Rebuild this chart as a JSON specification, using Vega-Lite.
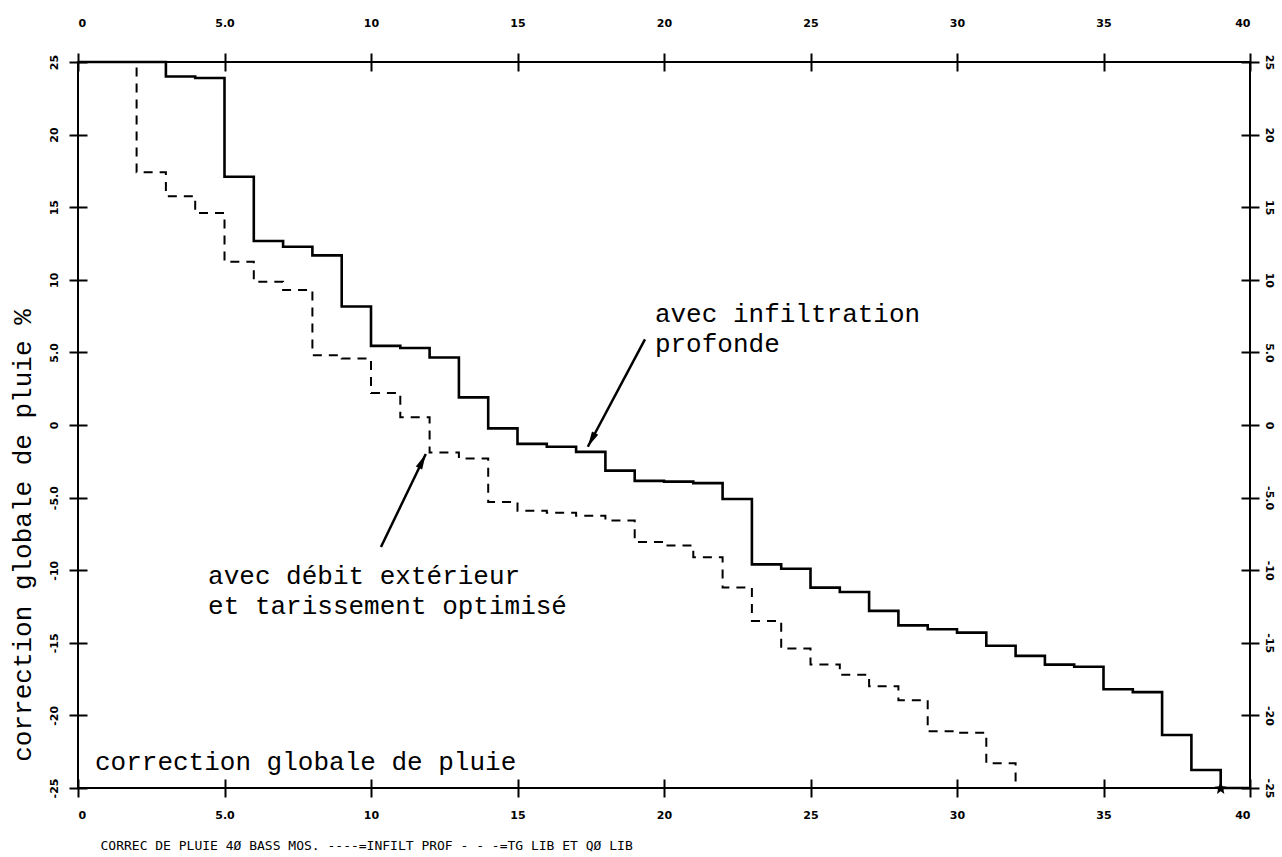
{
  "$schema": "https://vega.github.io/schema/vega-lite/v6.json",
  "width": 1172,
  "height": 726,
  "autosize": {"type": "none"},
  "padding": {"left": 78, "top": 62, "right": 32, "bottom": 69},
  "background": "white",
  "config": {
    "view": {"stroke": "black", "strokeWidth": 2},
    "axis": {
      "grid": false, "domain": false, "ticks": true, "tickColor": "black", "tickWidth": 2,
      "tickSize": 18, "offset": -9,
      "labelFont": "DejaVu Sans", "labelFontWeight": "bold", "labelFontSize": 11, "labelColor": "black",
      "titleColor": "black"
    }
  },
  "datasets": {
    "curves": [
      {"x": 0, "v": 25, "s": "infilt"}, {"x": 1, "v": 25, "s": "infilt"}, {"x": 2, "v": 25, "s": "infilt"},
      {"x": 3, "v": 24.0, "s": "infilt"}, {"x": 4, "v": 23.9, "s": "infilt"}, {"x": 5, "v": 17.1, "s": "infilt"},
      {"x": 6, "v": 12.67, "s": "infilt"}, {"x": 7, "v": 12.28, "s": "infilt"}, {"x": 8, "v": 11.68, "s": "infilt"},
      {"x": 9, "v": 8.16, "s": "infilt"}, {"x": 10, "v": 5.45, "s": "infilt"}, {"x": 11, "v": 5.3, "s": "infilt"},
      {"x": 12, "v": 4.65, "s": "infilt"}, {"x": 13, "v": 1.9, "s": "infilt"}, {"x": 14, "v": -0.23, "s": "infilt"},
      {"x": 15, "v": -1.3, "s": "infilt"}, {"x": 16, "v": -1.5, "s": "infilt"}, {"x": 17, "v": -1.85, "s": "infilt"},
      {"x": 18, "v": -3.14, "s": "infilt"}, {"x": 19, "v": -3.85, "s": "infilt"}, {"x": 20, "v": -3.9, "s": "infilt"},
      {"x": 21, "v": -4.0, "s": "infilt"}, {"x": 22, "v": -5.1, "s": "infilt"}, {"x": 23, "v": -9.6, "s": "infilt"},
      {"x": 24, "v": -9.9, "s": "infilt"}, {"x": 25, "v": -11.2, "s": "infilt"}, {"x": 26, "v": -11.5, "s": "infilt"},
      {"x": 27, "v": -12.8, "s": "infilt"}, {"x": 28, "v": -13.8, "s": "infilt"}, {"x": 29, "v": -14.07, "s": "infilt"},
      {"x": 30, "v": -14.3, "s": "infilt"}, {"x": 31, "v": -15.2, "s": "infilt"}, {"x": 32, "v": -15.9, "s": "infilt"},
      {"x": 33, "v": -16.5, "s": "infilt"}, {"x": 34, "v": -16.65, "s": "infilt"}, {"x": 35, "v": -18.2, "s": "infilt"},
      {"x": 36, "v": -18.4, "s": "infilt"}, {"x": 37, "v": -21.35, "s": "infilt"}, {"x": 38, "v": -23.76, "s": "infilt"},
      {"x": 39, "v": -25, "s": "infilt"}, {"x": 40, "v": -25, "s": "infilt"},
      {"x": 0, "v": 25, "s": "tg"}, {"x": 1, "v": 25, "s": "tg"}, {"x": 2, "v": 17.4, "s": "tg"},
      {"x": 3, "v": 15.76, "s": "tg"}, {"x": 4, "v": 14.6, "s": "tg"}, {"x": 5, "v": 11.25, "s": "tg"},
      {"x": 6, "v": 9.87, "s": "tg"}, {"x": 7, "v": 9.3, "s": "tg"}, {"x": 8, "v": 4.81, "s": "tg"},
      {"x": 9, "v": 4.58, "s": "tg"}, {"x": 10, "v": 2.2, "s": "tg"}, {"x": 11, "v": 0.53, "s": "tg"},
      {"x": 12, "v": -1.9, "s": "tg"}, {"x": 13, "v": -2.3, "s": "tg"}, {"x": 14, "v": -5.3, "s": "tg"},
      {"x": 15, "v": -5.9, "s": "tg"}, {"x": 16, "v": -6.05, "s": "tg"}, {"x": 17, "v": -6.25, "s": "tg"},
      {"x": 18, "v": -6.58, "s": "tg"}, {"x": 19, "v": -8.06, "s": "tg"}, {"x": 20, "v": -8.3, "s": "tg"},
      {"x": 21, "v": -9.1, "s": "tg"}, {"x": 22, "v": -11.2, "s": "tg"}, {"x": 23, "v": -13.5, "s": "tg"},
      {"x": 24, "v": -15.4, "s": "tg"}, {"x": 25, "v": -16.5, "s": "tg"}, {"x": 26, "v": -17.2, "s": "tg"},
      {"x": 27, "v": -18.0, "s": "tg"}, {"x": 28, "v": -18.95, "s": "tg"}, {"x": 29, "v": -21.1, "s": "tg"},
      {"x": 30, "v": -21.2, "s": "tg"}, {"x": 31, "v": -23.3, "s": "tg"}, {"x": 32, "v": -25, "s": "tg"}
    ],
    "notes": [
      {"t": "avec infiltration", "x": 19.69, "y": 7.64},
      {"t": "profonde", "x": 19.69, "y": 5.58},
      {"t": "avec débit extérieur", "x": 4.44, "y": -10.4},
      {"t": "et tarissement optimisé", "x": 4.44, "y": -12.47},
      {"t": "correction globale de pluie", "x": 0.58, "y": -23.2}
    ],
    "arrows": [
      {"id": "a1", "x": 19.35, "y": 5.9, "x2": 17.4, "y2": -1.5},
      {"id": "a2", "x": 10.34, "y": -8.4, "x2": 11.87, "y2": -2.0}
    ],
    "marks": [{"x": 39, "y": -25}]
  },
  "resolve": {"axis": {"x": "independent", "y": "independent"}},
  "layer": [
    {
      "data": {"name": "curves"},
      "transform": [{"filter": "datum.s == 'infilt'"}],
      "mark": {"type": "line", "interpolate": "step-after", "color": "black", "strokeWidth": 2.6},
      "encoding": {
        "x": {"field": "x", "type": "quantitative", "scale": {"domain": [0, 40], "nice": false, "zero": false},
          "axis": {"orient": "bottom", "values": [0, 5, 10, 15, 20, 25, 30, 35, 40],
            "labelExpr": "datum.value == 5 ? '5.0' : '' + datum.value", "labelPadding": 12,
            "title": "CORREC DE PLUIE 4Ø BASS MOS. ----=INFILT PROF  - - -=TG LIB ET QØ LIB",
            "titleFont": "DejaVu Sans Mono", "titleFontSize": 13, "titleFontWeight": "normal",
            "titleX": 22, "titleY": 66, "titleAlign": "left", "titleBaseline": "middle", "titleAnchor": "start"}},
        "y": {"field": "v", "type": "quantitative", "scale": {"domain": [-25, 25], "nice": false, "zero": false},
          "axis": {"orient": "left", "values": [-25, -20, -15, -10, -5, 0, 5, 10, 15, 20, 25],
            "labelExpr": "datum.value == 5 ? '5.0' : datum.value == -5 ? '-5.0' : '' + datum.value",
            "labelAngle": 270, "labelPadding": 10,
            "title": "correction globale de pluie %", "titleFont": "Liberation Mono", "titleFontSize": 26,
            "titleFontWeight": "normal", "titleAngle": 270, "titleX": -65, "titleY": 473,
            "titleAlign": "center", "titleBaseline": "middle"}}
      }
    },
    {
      "data": {"name": "curves"},
      "transform": [{"filter": "datum.s == 'tg'"}],
      "mark": {"type": "line", "interpolate": "step-after", "color": "black", "strokeWidth": 2, "strokeDash": [9, 7]},
      "encoding": {
        "x": {"field": "x", "type": "quantitative", "scale": {"domain": [0, 40], "nice": false, "zero": false},
          "axis": {"orient": "top", "values": [0, 5, 10, 15, 20, 25, 30, 35, 40],
            "labelExpr": "datum.value == 5 ? '5.0' : '' + datum.value", "labelPadding": 25, "title": null}},
        "y": {"field": "v", "type": "quantitative", "scale": {"domain": [-25, 25], "nice": false, "zero": false},
          "axis": {"orient": "right", "values": [-25, -20, -15, -10, -5, 0, 5, 10, 15, 20, 25],
            "labelExpr": "datum.value == 5 ? '5.0' : datum.value == -5 ? '-5.0' : '' + datum.value",
            "labelAngle": 90, "labelPadding": 4, "title": null}}
      }
    },
    {
      "data": {"name": "notes"},
      "mark": {"type": "text", "font": "Liberation Mono", "fontSize": 26, "align": "left", "baseline": "middle", "color": "black"},
      "encoding": {
        "x": {"field": "x", "type": "quantitative", "axis": null},
        "y": {"field": "y", "type": "quantitative", "axis": null},
        "text": {"field": "t"}
      }
    },
    {
      "data": {"name": "arrows"},
      "mark": {"type": "rule", "color": "black", "strokeWidth": 2.5},
      "encoding": {
        "x": {"field": "x", "type": "quantitative", "axis": null},
        "y": {"field": "y", "type": "quantitative", "axis": null},
        "x2": {"field": "x2"},
        "y2": {"field": "y2"}
      }
    },
    {
      "data": {"name": "arrows"},
      "transform": [{"filter": "datum.id == 'a1'"}],
      "mark": {"type": "point", "shape": "M0,0L0.5,2.2L-0.5,2.2Z", "filled": true, "color": "black", "opacity": 1, "size": 200, "angle": 208},
      "encoding": {
        "x": {"field": "x2", "type": "quantitative", "axis": null},
        "y": {"field": "y2", "type": "quantitative", "axis": null}
      }
    },
    {
      "data": {"name": "arrows"},
      "transform": [{"filter": "datum.id == 'a2'"}],
      "mark": {"type": "point", "shape": "M0,0L0.5,2.2L-0.5,2.2Z", "filled": true, "color": "black", "opacity": 1, "size": 200, "angle": 26},
      "encoding": {
        "x": {"field": "x2", "type": "quantitative", "axis": null},
        "y": {"field": "y2", "type": "quantitative", "axis": null}
      }
    },
    {
      "data": {"name": "marks"},
      "mark": {"type": "point", "shape": "M0,-1L0.3,-0.3L1,-0.2L0.45,0.25L0.6,1L0,0.55L-0.6,1L-0.45,0.25L-1,-0.2L-0.3,-0.3Z", "filled": true, "color": "black", "opacity": 1, "size": 150},
      "encoding": {
        "x": {"field": "x", "type": "quantitative", "axis": null},
        "y": {"field": "y", "type": "quantitative", "axis": null}
      }
    }
  ]
}
